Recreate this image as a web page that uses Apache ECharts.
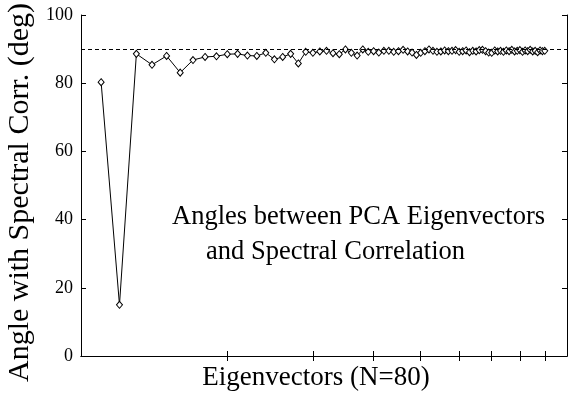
<!DOCTYPE html>
<html>
<head>
<meta charset="utf-8">
<script src="https://cdn.jsdelivr.net/npm/echarts@6/dist/echarts.min.js"></script>
<style>
html,body{margin:0;padding:0;background:#fff;}
#c{width:568px;height:395px;}
</style>
</head>
<body>
<div id="c"></div>
<script>
// ---- data ----
const eigenvectorIndex = [1,2,3,4,5,6,7,8,9,10,11,12,13,14,15,16,17,18,19,20,
  21,22,23,24,25,26,27,28,29,30,31,32,33,34,35,36,37,38,39,40,
  41,42,43,44,45,46,47,48,49,50,51,52,53,54,55,56,57,58,59,60,
  61,62,63,64,65,66,67,68,69,70,71,72,73,74,75,76,77,78,79,80];
const angleDeg = [80.3,15.0,88.6,85.4,88.0,83.1,86.8,87.7,87.9,88.5,
  88.6,88.1,88.0,88.9,87.0,87.7,88.6,85.8,89.2,88.9,
  89.3,89.5,88.8,88.5,89.9,88.9,88.1,89.9,89.2,89.4,
  89.0,89.5,89.5,89.2,89.4,89.8,89.3,89.0,88.3,88.9,
  89.4,89.9,89.5,89.2,89.3,89.6,89.4,89.5,89.7,89.2,
  89.4,89.6,89.1,89.5,89.3,89.7,89.8,89.4,89.0,88.9,
  89.6,89.3,89.5,89.2,89.6,89.4,89.8,89.3,89.5,89.7,
  89.2,89.6,89.4,89.8,89.3,89.5,89.1,89.6,89.4,89.5];
const xTickIndices = [10,20,30,40,50,60,70,80];
const yTicks = [0,20,40,60,80,100];
const referenceAngle = 90;
const xTitle = 'Eigenvectors (N=80)';
const yTitle = 'Angle with Spectral Corr. (deg)';
const noteLines = ['Angles between PCA Eigenvectors', 'and Spectral Correlation'];

// ---- scale setup: axis is log(n + shift) ----
const X_SHIFT = 10;
const seriesData = eigenvectorIndex.map((n, i) => [n + X_SHIFT, angleDeg[i]]);
const tickVals = xTickIndices.map(n => n + X_SHIFT);

const FONT = '"Liberation Serif","DejaVu Serif",serif';
const chart = echarts.init(document.getElementById('c'), null, {renderer: 'canvas'});

const xCommon = {
  type: 'log', logBase: 10, min: X_SHIFT, max: 100,
  axisLine: {show: true, lineStyle: {color: '#000', width: 1}},
  axisTick: {show: true, inside: true, length: 5, customValues: tickVals, lineStyle: {color: '#000'}},
  axisLabel: {show: false},
  splitLine: {show: false},
  minorTick: {show: false}
};
const yCommon = {
  type: 'value', min: 0, max: 100, interval: 20,
  axisLine: {show: true, lineStyle: {color: '#000', width: 1}},
  axisTick: {show: true, inside: true, length: 5, lineStyle: {color: '#000'}},
  splitLine: {show: false}
};

chart.setOption({
  animation: false,
  backgroundColor: '#fff',
  grid: {left: 81, right: 1, top: 15, bottom: 39, containLabel: false, outerBoundsMode: 'none'},
  xAxis: [
    Object.assign({}, xCommon, {
      position: 'bottom',
      name: xTitle, nameLocation: 'middle', nameGap: 8,
      nameTextStyle: {fontFamily: FONT, fontSize: 27, color: '#000', padding: [0, 16, 0, 0]}
    }),
    Object.assign({}, xCommon, {position: 'top'})
  ],
  yAxis: [
    Object.assign({}, yCommon, {
      position: 'left',
      axisLabel: {show: true, fontFamily: FONT, fontSize: 18, color: '#000', margin: 8},
      name: yTitle, nameLocation: 'middle', nameGap: 40,
      nameTextStyle: {fontFamily: FONT, fontSize: 30, color: '#000', padding: [0, 14, 0, 0]}
    }),
    Object.assign({}, yCommon, {position: 'right', axisLabel: {show: false}})
  ],
  graphic: [
    {type: 'text', left: 172, top: 204,
      style: {text: noteLines[0], font: '26.5px ' + FONT, fill: '#000'}},
    {type: 'text', left: 206, top: 239,
      style: {text: noteLines[1], font: '26.5px ' + FONT, fill: '#000'}}
  ],
  series: [{
    type: 'line',
    xAxisIndex: 0, yAxisIndex: 0,
    data: seriesData,
    symbol: 'diamond', symbolSize: [6, 7],
    showAllSymbol: true,
    lineStyle: {color: '#000', width: 1},
    itemStyle: {color: '#fff', borderColor: '#000', borderWidth: 1},
    z: 3,
    markLine: {
      silent: true, symbol: ['none', 'none'], label: {show: false},
      lineStyle: {color: '#000', type: [4, 3], width: 1},
      data: [{yAxis: referenceAngle}]
    }
  }]
});
</script>
</body>
</html>
